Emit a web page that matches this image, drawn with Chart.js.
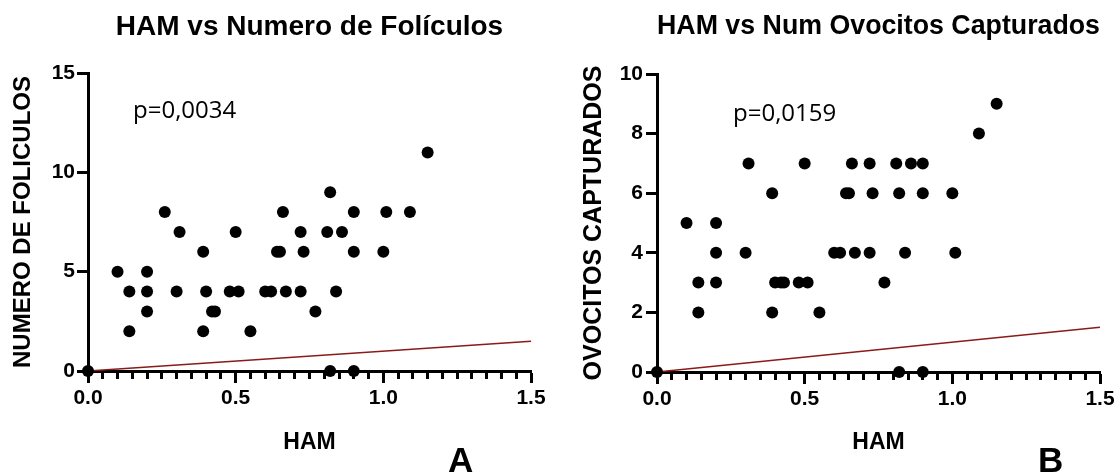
<!DOCTYPE html>
<html>
<head>
<meta charset="utf-8">
<script src="https://cdn.jsdelivr.net/npm/chart.js@4"></script>
<style>
body{margin:0;width:1116px;height:472px;overflow:hidden;position:relative;background:#fff;}
canvas{position:absolute;top:0;}
.pval{position:absolute;font-family:"Open Sans",sans-serif;font-size:24px;line-height:24px;color:#000;white-space:nowrap;}
.tag{position:absolute;font-family:"Liberation Sans",Arial,sans-serif;font-weight:bold;font-size:35px;line-height:35px;color:#000;}
</style>
</head>
<body>
<canvas id="chartA" width="558" height="472" style="left:0"></canvas>
<canvas id="chartB" width="600" height="472" style="left:558px"></canvas>
<div class="pval" style="left:133px;top:97px">p=0,0034</div>
<div class="pval" style="left:733px;top:100px">p=0,0159</div>
<div class="tag" style="left:448px;top:442px">A</div>
<div class="tag" style="left:1038px;top:442px">B</div>
<script>
// HAM vs numero de foliculos
const hamFol = [0, 0.10, 0.14, 0.14, 0.20, 0.20, 0.20, 0.26, 0.30, 0.31, 0.39, 0.39, 0.40, 0.42, 0.43, 0.48, 0.50, 0.51, 0.55, 0.60, 0.62, 0.64, 0.65, 0.66, 0.67, 0.72, 0.72, 0.73, 0.77, 0.81, 0.82, 0.82, 0.84, 0.86, 0.90, 0.90, 0.90, 1.00, 1.01, 1.09, 1.15];
const numFol = [0, 5, 4, 2, 5, 4, 3, 8, 4, 7, 6, 2, 4, 3, 3, 4, 7, 4, 2, 4, 4, 6, 6, 8, 4, 7, 4, 6, 3, 7, 9, 0, 4, 7, 8, 6, 0, 6, 8, 8, 11];

// HAM vs ovocitos capturados
const hamOvo = [0, 0.10, 0.14, 0.14, 0.20, 0.20, 0.20, 0.30, 0.31, 0.39, 0.39, 0.40, 0.42, 0.43, 0.48, 0.50, 0.51, 0.55, 0.60, 0.62, 0.64, 0.65, 0.66, 0.67, 0.72, 0.72, 0.73, 0.77, 0.81, 0.82, 0.82, 0.84, 0.86, 0.90, 0.90, 0.90, 1.00, 1.01, 1.09, 1.15];
const numOvo = [0, 5, 3, 2, 5, 4, 3, 4, 7, 6, 2, 3, 3, 3, 3, 7, 3, 2, 4, 4, 6, 6, 7, 4, 7, 4, 6, 3, 7, 6, 0, 4, 7, 7, 6, 0, 6, 4, 8, 9];

// fitted lines
const fitX = [0, 1.5];
const fitFolY = [0, 1.5];
const fitOvoY = [0, 1.5];

// axes
const xMax = 1.5, xMinorStep = 0.05, xMajorStep = 0.5;
const folMax = 15, folStep = 5;
const ovoMax = 10, ovoStep = 2;

Chart.defaults.font.family = "'Liberation Sans', Arial, sans-serif";
Chart.defaults.color = "#000";

function isMajor(v){
  return Math.abs(v / xMajorStep - Math.round(v / xMajorStep)) < 1e-6;
}

function pts(xs, ys){
  return xs.map((x, i) => ({x: x, y: ys[i]}));
}

function makeChart(id, cfg){
  return new Chart(document.getElementById(id), {
    type: "scatter",
    data: {
      datasets: [
        {
          data: pts(cfg.xs, cfg.ys),
          backgroundColor: "#000",
          borderWidth: 0,
          pointRadius: 6,
          pointHoverRadius: 6,
          clip: false,
          order: 1
        },
        {
          type: "line",
          data: pts(fitX, cfg.fitY),
          borderColor: "#8b1a1a",
          borderWidth: 1.5,
          pointRadius: 0,
          clip: false,
          order: 2
        }
      ]
    },
    options: {
      responsive: false,
      animation: false,
      layout: {padding: {left: 0, right: cfg.padRight, top: 0, bottom: 0}},
      plugins: {
        legend: {display: false},
        tooltip: {enabled: false},
        title: {
          display: true,
          text: cfg.title,
          fullSize: false,
          font: {size: cfg.titleSize, weight: "bold", lineHeight: 1.2},
          padding: cfg.titlePad,
          color: "#000"
        }
      },
      scales: {
        x: {
          type: "linear",
          min: 0,
          max: xMax,
          afterFit: s => { s.height = cfg.xHeight; },
          border: {display: true, color: "#000", width: 3},
          grid: {
            display: true,
            drawOnChartArea: false,
            drawTicks: true,
            tickLength: 12,
            tickColor: "#000",
            tickWidth: 3,
            // minor ticks shorter than the major ones
            tickBorderDash: c => isMajor(c.tick.value) ? [] : [6, 100]
          },
          ticks: {
            stepSize: xMinorStep,
            autoSkip: false,
            maxRotation: 0,
            minRotation: 0,
            padding: 3,
            font: {size: 21, weight: "bold"},
            color: "#000",
            callback: v => isMajor(v) ? v.toFixed(1) : ""
          },
          title: {
            display: true,
            text: "HAM",
            font: {size: 23, weight: "bold", lineHeight: 1.2},
            padding: {top: 0, bottom: 15.7},
            color: "#000"
          }
        },
        y: {
          type: "linear",
          min: 0,
          max: cfg.yMax,
          afterFit: s => { s.width = cfg.yWidth; },
          border: {display: true, color: "#000", width: 3},
          grid: {
            display: true,
            drawOnChartArea: false,
            drawTicks: true,
            tickLength: 11,
            tickColor: "#000",
            tickWidth: 3
          },
          ticks: {
            stepSize: cfg.yStep,
            padding: cfg.yTickPad,
            font: {size: 21, weight: "bold"},
            color: "#000"
          },
          title: {
            display: true,
            text: cfg.yTitle,
            font: {size: cfg.yTitleSize, weight: "bold", lineHeight: 1.2},
            padding: {top: cfg.yTitlePad, bottom: 0},
            color: "#000"
          }
        }
      }
    }
  });
}

makeChart("chartA", {
  xs: hamFol, ys: numFol, fitY: fitFolY,
  title: "HAM vs Numero de Folículos", titleSize: 28,
  titlePad: {top: 10, bottom: 29.4},
  padRight: 27, xHeight: 101, yWidth: 88,
  yMax: folMax, yStep: folStep, yTickPad: 2,
  yTitle: "NUMERO DE FOLICULOS", yTitleSize: 24, yTitlePad: 9
});

makeChart("chartB", {
  xs: hamOvo, ys: numOvo, fitY: fitOvoY,
  title: "HAM vs Num Ovocitos Capturados", titleSize: 27,
  titlePad: {top: 10.3, bottom: 31.3},
  padRight: 58, xHeight: 100, yWidth: 99,
  yMax: ovoMax, yStep: ovoStep, yTickPad: 3,
  yTitle: "OVOCITOS CAPTURADOS", yTitleSize: 25, yTitlePad: 21
});
</script>
</body>
</html>
